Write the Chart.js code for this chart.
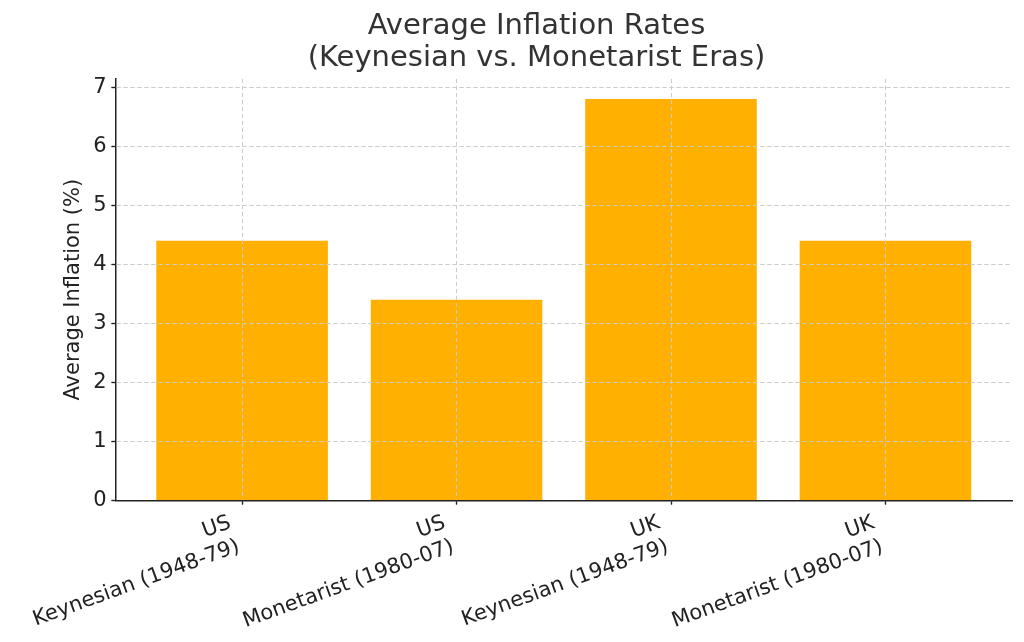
<!DOCTYPE html>
<html>
<head>
<meta charset="utf-8">
<script src="https://cdn.jsdelivr.net/npm/chart.js@4"></script>
<style>
  html, body { margin: 0; padding: 0; background: #fff; }
  #wrap { width: 1024px; height: 642px; }
</style>
</head>
<body>
<div id="wrap"><canvas id="myBarChart" width="1024" height="642"></canvas></div>
<script>
var countries = ['US', 'US', 'UK', 'UK'];
var eras = ['Keynesian (1948-79)', 'Monetarist (1980-07)', 'Keynesian (1948-79)', 'Monetarist (1980-07)'];
var inflation = [4.4, 3.4, 6.8, 4.4];
var yTicks = [0, 1, 2, 3, 4, 5, 6, 7];

var points = inflation.map(function (v, i) { return { x: i, y: v }; });

// redraw the grid on top of the bars, like the original
var gridOnTop = {
    id: 'gridOnTop',
    afterDatasetsDraw: function (chart) {
        chart.scales.x.drawGrid(chart.chartArea);
        chart.scales.y.drawGrid(chart.chartArea);
    }
};

var gridColor = function (c) {
    return c.tick && c.tick.value === 0 && c.scale.axis === 'y' ? 'rgba(0,0,0,0)' : '#cccccc';
};

var ctx = document.getElementById('myBarChart').getContext('2d');
var myBarChart = new Chart(ctx, {
    type: 'bar',
    data: {
        datasets: [{
            data: points,
            backgroundColor: '#FFB000',
            barPercentage: 0.8,
            categoryPercentage: 1.0
        }]
    },
    options: {
        responsive: false,
        animation: false,
        layout: { padding: { left: 61, right: 12, top: 6, bottom: 2 } },
        plugins: {
            legend: { display: false },
            tooltip: { enabled: false },
            title: {
                display: true,
                text: ['Average Inflation Rates', '(Keynesian vs. Monetarist Eras)'],
                color: '#333',
                font: { family: 'DejaVu Sans', size: 29, weight: 'normal', lineHeight: 1.12 },
                padding: { top: 4, bottom: 4 }
            }
        },
        scales: {
            x: {
                type: 'linear',
                offset: false,
                min: -0.59,
                max: 3.59,
                afterBuildTicks: function (axis) {
                    axis.ticks = countries.map(function (c, i) { return { value: i }; });
                },
                ticks: {
                    callback: function (value) { return [countries[value], eras[value]]; },
                    color: '#222',
                    font: { family: 'DejaVu Sans', size: 21, lineHeight: 1.2 },
                    minRotation: 20,
                    maxRotation: 20,
                    padding: 6,
                    labelOffset: -12
                },
                grid: {
                    offset: false,
                    color: gridColor,
                    lineWidth: 1,
                    tickColor: '#222',
                    tickBorderDash: [],
                    tickLength: 4,
                    tickWidth: 1.2
                },
                border: { display: true, color: '#222', width: 1.5, dash: [4, 3] }
            },
            y: {
                min: 0,
                max: 7.14,
                afterBuildTicks: function (axis) {
                    axis.ticks = yTicks.map(function (v) { return { value: v }; });
                },
                ticks: {
                    color: '#222',
                    font: { family: 'DejaVu Sans', size: 21 },
                    padding: 5
                },
                grid: {
                    color: gridColor,
                    lineWidth: 1,
                    tickColor: '#222',
                    tickBorderDash: [],
                    tickLength: 4,
                    tickWidth: 1.2
                },
                border: { display: true, color: '#222', width: 1.5, dash: [4, 3] },
                title: {
                    display: true,
                    text: 'Average Inflation (%)',
                    color: '#222',
                    font: { family: 'DejaVu Sans', size: 21 },
                    padding: { top: 0, bottom: 2 }
                }
            }
        }
    },
    plugins: [gridOnTop]
});
</script>
</body>
</html>
